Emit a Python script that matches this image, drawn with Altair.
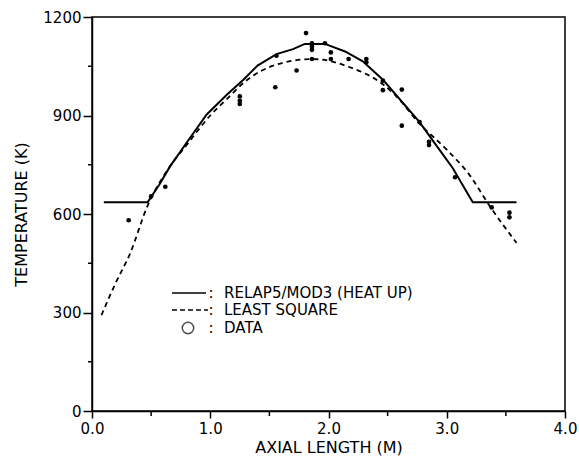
import altair as alt
import pandas as pd

# RELAP5/MOD3 (heat up) calculated profile
relap_x = [0.10, 0.47, 0.57, 0.66, 0.80, 0.97, 1.14, 1.28, 1.40, 1.56, 1.70, 1.80,
           1.97, 2.14, 2.29, 2.46, 2.63, 2.77, 2.91, 3.05, 3.22, 3.59]
relap_t = [636, 636, 690, 745, 817, 903, 963, 1009, 1052, 1087, 1102, 1118,
           1118, 1095, 1065, 1009, 938, 880, 810, 740, 636, 636]

# Least-square fit curve
ls_x = [0.08, 0.20, 0.32, 0.47, 0.64, 0.80, 1.00, 1.14, 1.30, 1.56, 1.87, 2.18,
        2.46, 2.57, 2.77, 3.00, 3.19, 3.36, 3.59]
ls_t = [292, 390, 478, 625, 735, 810, 900, 950, 1005, 1055, 1072, 1047,
        995, 960, 875, 796, 720, 626, 512]

# Measured data
data_x = [0.31, 0.50, 0.62, 1.25, 1.25, 1.25, 1.55, 1.56, 1.73, 1.81, 1.86, 1.86,
          1.86, 1.86, 1.97, 2.02, 2.02, 2.17, 2.32, 2.32, 2.46, 2.46, 2.62, 2.62,
          2.77, 2.85, 2.85, 3.07, 3.38, 3.53, 3.53]
data_t = [581, 654, 683, 935, 945, 958, 986, 1082, 1037, 1151, 1100, 1110,
          1120, 1072, 1120, 1092, 1072, 1072, 1072, 1062, 1006, 977, 979, 869,
          880, 820, 810, 712, 620, 604, 590]

x_major = [0, 1, 2, 3, 4]
x_minor = [0.5, 1.5, 2.5, 3.5]
y_major = [0, 300, 600, 900, 1200]
y_minor = [150, 450, 750, 1050]

legend_labels = ["RELAP5/MOD3 (HEAT UP)", "LEAST SQUARE", "DATA"]

FONT = "DejaVu Sans"

relap_df = pd.DataFrame({"x": relap_x, "t": relap_t})
ls_df = pd.DataFrame({"x": ls_x, "t": ls_t})
pts_df = pd.DataFrame({"x": data_x, "t": data_t})

xs = alt.Scale(domain=[0, 4], nice=False)
ys = alt.Scale(domain=[0, 1200], nice=False)

X = alt.X("x:Q", scale=xs,
          axis=alt.Axis(values=x_major, format=".1f", grid=False, tickSize=7,
                        tickWidth=1.5, tickColor="black", labelFlush=False,
                        title="AXIAL LENGTH (M)", labelPadding=3, titlePadding=3,
                        labelFontSize=15, titleFontSize=16, labelFont=FONT,
                        titleFont=FONT, labelColor="black", titleColor="black",
                        titleFontWeight="normal", domainColor="black",
                        domainWidth=1.5))
Y = alt.Y("t:Q", scale=ys,
          axis=alt.Axis(values=y_major, format="d", grid=False, tickSize=9,
                        tickWidth=1.5, labelFlush=False,
                        tickColor="black", title="TEMPERATURE (K)", labelPadding=2,
                        titlePadding=13, labelFontSize=15, titleFontSize=16,
                        labelFont=FONT, titleFont=FONT, labelColor="black",
                        titleColor="black", titleFontWeight="normal",
                        domainColor="black", domainWidth=1.5))

relap = alt.Chart(relap_df).mark_line(color="black", strokeWidth=2).encode(x=X, y=Y)
ls = alt.Chart(ls_df).mark_line(color="black", strokeWidth=1.8, strokeDash=[5, 4],
                                interpolate="monotone").encode(x="x:Q", y="t:Q")
pts = alt.Chart(pts_df).mark_circle(color="black", size=22, opacity=1).encode(
    x="x:Q", y="t:Q")

xmin_df = pd.DataFrame({"x": x_minor})
ymin_df = pd.DataFrame({"t": y_minor})

xmin_ticks = alt.Chart(xmin_df).mark_rule(color="black", strokeWidth=1.5).encode(
    x="x:Q", y=alt.value(394), y2=alt.value(399))
ymin_ticks = alt.Chart(ymin_df).mark_rule(color="black", strokeWidth=1.5).encode(
    y="t:Q", x=alt.value(-4), x2=alt.value(0))

one = pd.DataFrame({"k": [0]})
leg_solid = alt.Chart(one).mark_rule(color="black", strokeWidth=1.5).encode(
    x=alt.value(80), x2=alt.value(114), y=alt.value(276))
leg_dash = alt.Chart(one).mark_rule(
    color="black", strokeWidth=1.5, strokeDash=[5, 3]).encode(
    x=alt.value(80), x2=alt.value(116), y=alt.value(293))
leg_circ = alt.Chart(one).mark_point(
    color="black", shape="circle", size=130, strokeWidth=1.5, filled=False).encode(
    x=alt.value(96), y=alt.value(311))

leg_layers = []
rows = [276, 293, 311]
for i, yy in enumerate(rows):
    leg_layers.append(
        alt.Chart(pd.DataFrame({"label": [":"]})).mark_text(
            align="center", baseline="middle", fontSize=15, font=FONT,
            color="black"
        ).encode(text="label:N", x=alt.value(119), y=alt.value(yy))
    )
    leg_layers.append(
        alt.Chart(pd.DataFrame({"label": [legend_labels[i]]})).mark_text(
            align="left", baseline="middle", fontSize=15, font=FONT, color="black"
        ).encode(text="label:N", x=alt.value(132), y=alt.value(yy))
    )

chart = alt.layer(
    relap, ls, pts, xmin_ticks, ymin_ticks,
    leg_solid, leg_dash, leg_circ, *leg_layers
).properties(
    width=473, height=394,
    autosize=alt.AutoSizeParams(type="none"),
    padding={"left": 92, "top": 17, "right": 14, "bottom": 48},
    background="white",
).configure_view(stroke="black", strokeWidth=1.5)

chart.save("out.html", embed_options={"renderer": "svg", "actions": False})
